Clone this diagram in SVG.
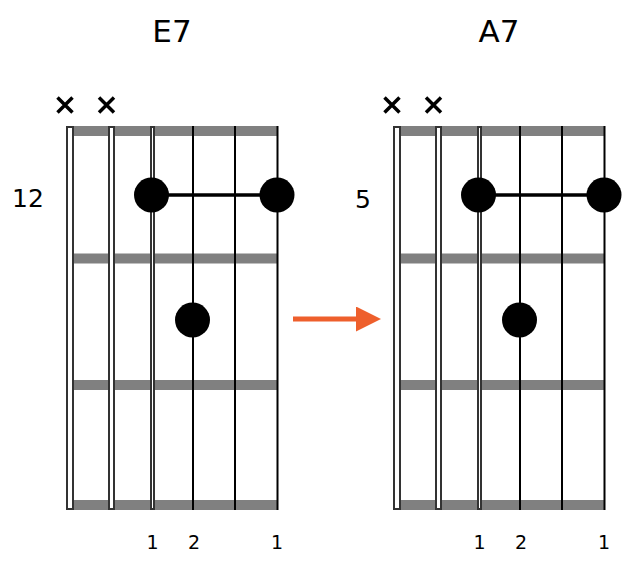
<svg xmlns="http://www.w3.org/2000/svg" width="638" height="574" viewBox="0 0 638 574">
<defs>
<style>
text{font-family:"DejaVu Sans",Verdana,sans-serif;fill:#000;text-anchor:middle}
.title{font-size:31px}
.fretno{font-size:25px}
.finger{font-size:19px}
.fret{fill:#808080}
.wound{fill:#fff;stroke:#333;stroke-width:2}
.str{stroke:#000;stroke-width:2}
.mute{stroke:#000;stroke-width:3.5;stroke-linecap:butt;fill:none}
.dot{fill:#000}
.barre{stroke:#000;stroke-width:3.5}
</style>
<marker id="ah" markerWidth="25" markerHeight="25" refX="0" refY="12.5" orient="auto" markerUnits="userSpaceOnUse">
<path d="M0,0 L25,12.5 L0,25 Z" fill="#ee5f2c"/>
</marker>
<g id="chord">
<rect class="fret" x="74" y="126" width="203" height="10"/>
<rect class="fret" x="74" y="253.5" width="203" height="10"/>
<rect class="fret" x="74" y="380" width="203" height="10"/>
<rect class="fret" x="74" y="500" width="203" height="10"/>
<rect class="wound" x="67" y="127" width="6" height="382"/>
<rect class="wound" x="109" y="127" width="5" height="382"/>
<rect class="wound" x="151" y="127" width="3" height="382"/>
<line class="str" x1="193" y1="126" x2="193" y2="510"/>
<line class="str" x1="235" y1="126" x2="235" y2="510"/>
<line class="str" x1="277.5" y1="126" x2="277.5" y2="510"/>
<path class="mute" d="M57.5,97.5 L72.5,112.5 M72.5,97.5 L57.5,112.5"/>
<path class="mute" d="M99,97.5 L114,112.5 M114,97.5 L99,112.5"/>
<line class="barre" x1="152" y1="195" x2="277" y2="195"/>
<circle class="dot" cx="151.5" cy="195" r="17.5"/>
<circle class="dot" cx="277" cy="195" r="17.5"/>
<circle class="dot" cx="192.5" cy="320" r="17.5"/>
<text class="finger" x="152.5" y="549">1</text>
<text class="finger" x="194" y="549">2</text>
<text class="finger" x="277" y="549">1</text>
</g>
</defs>
<g id="chord-E7">
<text class="title" x="172" y="42">E7</text>
<text class="fretno" x="28" y="207">12</text>
<use href="#chord"/>
</g>
<g id="chord-A7">
<text class="title" x="499" y="42">A7</text>
<text class="fretno" x="363" y="208">5</text>
<use href="#chord" transform="translate(327,0)"/>
</g>
<g id="connectors">
<line x1="293" y1="319" x2="356" y2="319" stroke="#ee5f2c" stroke-width="5" marker-end="url(#ah)"/>
</g>
</svg>
